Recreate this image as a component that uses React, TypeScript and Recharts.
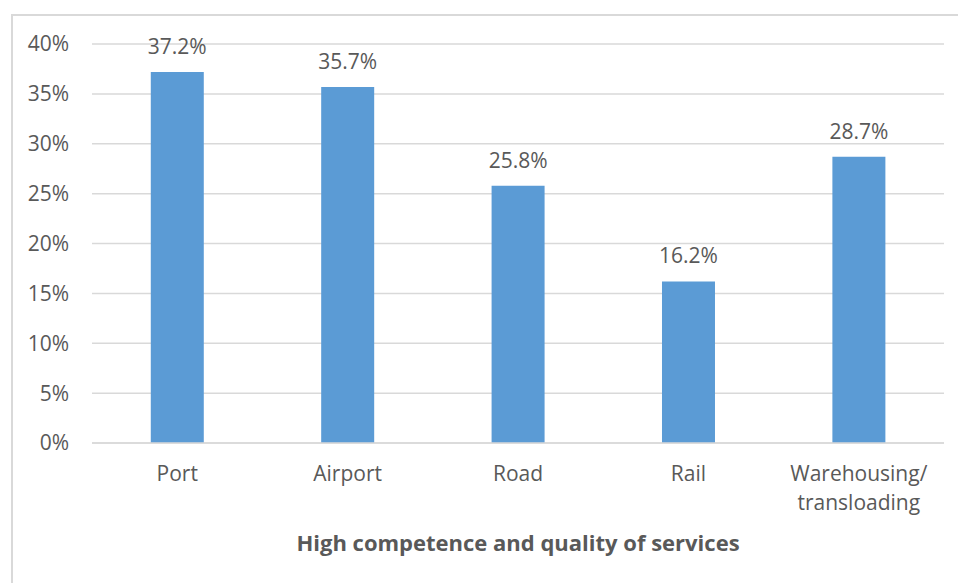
import { Bar, BarChart, CartesianGrid, LabelList, XAxis, YAxis } from 'recharts';

const categories = ['Port', 'Airport', 'Road', 'Rail', 'Warehousing/\ntransloading'];
const shares = [37.2, 35.7, 25.8, 16.2, 28.7];
const yTicks = [0, 5, 10, 15, 20, 25, 30, 35, 40];
const axisTitle = 'High competence and quality of services';

const data = categories.map((name, i) => ({ name, value: shares[i] }));

const FONT = '"Open Sans", "Noto Sans", sans-serif';
const TEXT = '#595959';
const FS = 21;

// x tick that breaks the label on '\n'
function CategoryTick(props: any) {
  const { x, y, payload } = props;
  const lines = String(payload.value).split('\n');
  return (
    <g transform={`translate(${x},${y})`}>
      {lines.map((line, i) => (
        <text
          key={line}
          x={0}
          y={i * 29}
          dy={30}
          textAnchor="middle"
          fill={TEXT}
          fontSize={FS}
          fontFamily={FONT}
        >
          {line}
        </text>
      ))}
    </g>
  );
}

export default function App() {
  return (
    <div style={{ position: 'absolute', left: 0, top: 0, width: 958, height: 583, background: '#fff' }}>
      {/* chart area border, cropped on right and bottom */}
      <div
        style={{
          position: 'absolute',
          left: 11,
          top: 14,
          width: 960,
          height: 580,
          borderLeft: '2px solid #D9D9D9',
          borderTop: '2px solid #D9D9D9',
        }}
      />
      <BarChart
        width={958}
        height={583}
        data={data}
        margin={{ top: 44, right: 14, left: 0, bottom: 0 }}
        barCategoryGap="34.5%"
        style={{ position: 'absolute', left: 0, top: 0 }}
      >
        <CartesianGrid vertical={false} stroke="#D9D9D9" strokeWidth={1.5} />
        <XAxis
          dataKey="name"
          axisLine={{ stroke: '#D9D9D9', strokeWidth: 1.5 }}
          tickLine={false}
          tick={<CategoryTick />}
          interval={0}
          height={140}
          label={{
            value: axisTitle,
            position: 'insideBottom',
            offset: 32,
            fill: TEXT,
            fontSize: 22,
            fontWeight: 'bold',
            fontFamily: FONT,
          }}
        />
        <YAxis
          width={92}
          domain={[0, 40]}
          ticks={yTicks}
          tickFormatter={(v: number) => `${v}%`}
          axisLine={false}
          tickLine={false}
          tickMargin={17}
          tick={{ fill: TEXT, fontSize: FS, fontFamily: FONT }}
        />
        <Bar dataKey="value" fill="#5B9BD5" isAnimationActive={false}>
          <LabelList
            dataKey="value"
            position="top"
            offset={18}
            formatter={(v: any) => `${Number(v).toFixed(1)}%`}
            style={{ fill: TEXT, fontSize: FS, fontFamily: FONT }}
          />
        </Bar>
      </BarChart>
    </div>
  );
}
